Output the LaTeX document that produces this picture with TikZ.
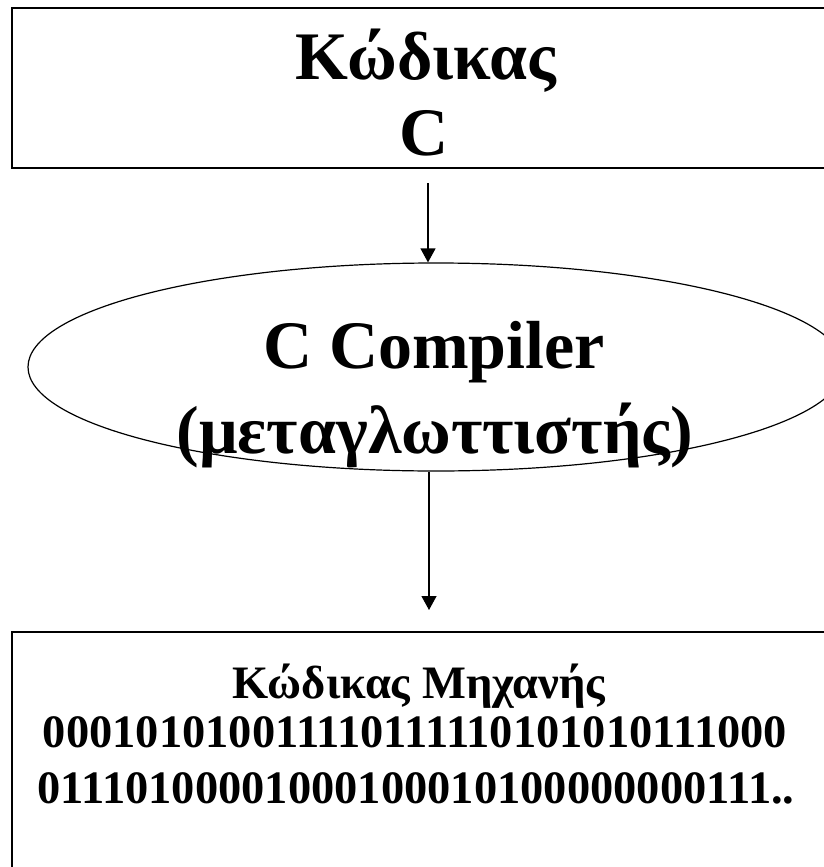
\documentclass[tikz,border=0pt]{standalone}
\usepackage{fontspec}
\setmainfont{Liberation Serif}
\usetikzlibrary{shapes.geometric,arrows.meta}
\begin{document}
\begin{tikzpicture}[x=1pt,y=-1pt,
  box/.style={draw,line width=2pt,rectangle,inner sep=0pt},
  oval/.style={draw,line width=1.2pt,ellipse,inner sep=0pt},
  big/.style={font=\fontsize{68}{75}\selectfont\bfseries,inner sep=0pt},
  mid/.style={font=\fontsize{46.5}{56}\selectfont\bfseries,inner sep=0pt},
  arr/.style={line width=1.2pt,-{Triangle[length=14pt,width=15pt]}}]
\useasboundingbox (0,0) rectangle (824,867);
\clip (0,0) rectangle (824,867);
% top box
\node[box, minimum width=828pt, minimum height=160pt] (src) at (426,88) {};
\node[big, anchor=base] (srcA) at (426,80) {Κώδικας};
\node[big, anchor=base] (srcB) at (424,155) {C};
% ellipse
\node[oval, minimum width=816pt, minimum height=208pt] (cc) at (436,367) {};
\node[big, anchor=base] (ccA) at (434,368) {C Compiler};
\node[big, anchor=base] (ccB) at (435,453) {(μεταγλωττιστής)};
% bottom box
\node[box, minimum width=828pt, minimum height=268pt] (mc) at (426,766) {};
\node[mid, anchor=base] (mcA) at (419,698) {Κώδικας Μηχανής};
\node[mid, anchor=base] (mcB) at (415,747) {000101010011110111110101010111000};
\node[mid, anchor=base] (mcC) at (416,803) {01110100001000100010100000000111..};
% connectors
\coordinate (a1) at (428,183);
\coordinate (a2) at (429,610);
\draw[arr] (a1) -- (a1 |- cc.north);
\draw[arr] (cc.south -| a2) -- (a2);
\end{tikzpicture}
\end{document}
